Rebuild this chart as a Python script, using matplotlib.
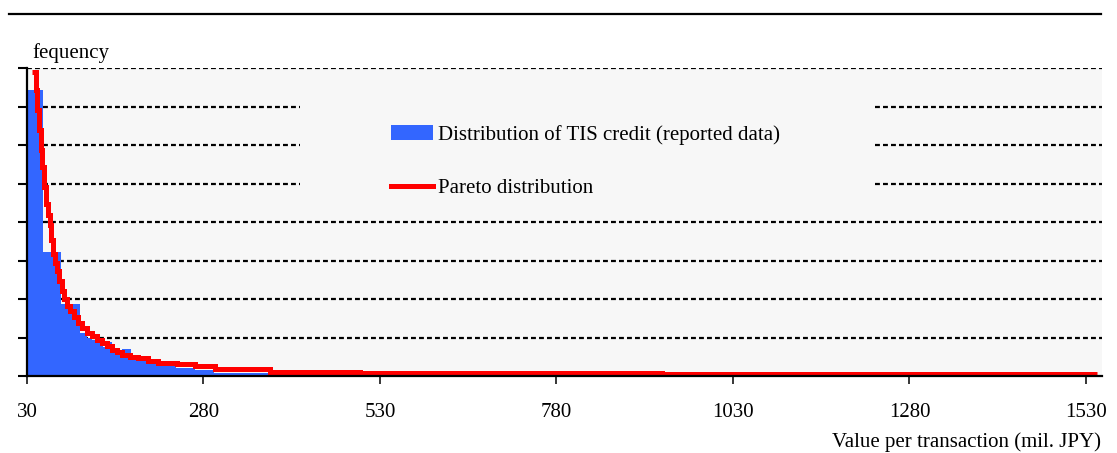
import numpy as np
import matplotlib
matplotlib.use('Agg')
import matplotlib.pyplot as plt
from matplotlib.patches import Rectangle, Patch
from matplotlib.lines import Line2D

plt.rcParams['font.family'] = ['Liberation Serif', 'DejaVu Serif']

# Distribution of TIS credit (reported data): bin edges (mil. JPY) and heights (tick units)
bin_edges = [30, 53, 78, 105, 115, 122, 129, 138, 145, 150, 165, 177, 189,
             203, 217, 241, 268, 295, 371]
bin_heights = [7.43, 3.23, 1.88, 1.12, 0.99, 0.94, 0.86, 0.76, 0.89, 0.68,
               0.70, 0.50, 0.39, 0.34, 0.26, 0.20, 0.15, 0.09]

# Pareto distribution (step curve)
pareto_x = [37, 43, 44, 47, 50, 51, 54, 57, 60, 63, 64, 67, 70, 72, 75, 80,
            82, 87, 91, 97, 102, 108, 115, 122, 129, 136, 143, 150, 158, 165,
            176, 187, 201, 216, 243, 268, 296, 374, 502, 930, 1545]
pareto_y = [7.90, 7.43, 6.91, 6.38, 5.86, 5.42, 4.90, 4.48, 4.17, 3.91, 3.52,
            3.18, 2.94, 2.74, 2.48, 2.22, 2.01, 1.82, 1.69, 1.54, 1.38, 1.25,
            1.12, 1.04, 0.94, 0.86, 0.78, 0.68, 0.63, 0.55, 0.50, 0.46, 0.40,
            0.35, 0.30, 0.25, 0.18, 0.10, 0.07, 0.04, 0.04]

x_ticks = [30, 280, 530, 780, 1030, 1280, 1530]
y_ticks = [0, 1, 2, 3, 4, 5, 6, 7, 8]

BLUE = '#3366ff'
RED = '#ff0000'
BG = '#f7f7f7'
FS = 15

fig = plt.figure(figsize=(11.17, 4.53), dpi=100)
ax = fig.add_axes([27 / 1117, 77 / 453, 1074.5 / 1117, 308 / 453])
ax.set_facecolor(BG)
ax.set_xlim(30, 1552)
ax.set_ylim(0, 8)

# dashed grid lines
for yv in y_ticks[1:]:
    ax.axhline(yv, color='black', lw=1.6, linestyle=(0, (2.2, 1.4)), zorder=0.5)

# legend area hides grid lines
ax.add_patch(Rectangle((0.254, 0.571), 0.535, 0.36, transform=ax.transAxes,
                       facecolor=BG, edgecolor='none', zorder=1))

edges = np.array(bin_edges)
ax.bar(edges[:-1], bin_heights, width=np.diff(edges), align='edge',
       color=BLUE, linewidth=0, zorder=2)
ax.plot(pareto_x, pareto_y, drawstyle='steps-post', color=RED, lw=3.6,
        solid_joinstyle='miter', solid_capstyle='butt', zorder=3)

for side in ['top', 'right']:
    ax.spines[side].set_visible(False)
for side in ['left', 'bottom']:
    ax.spines[side].set_linewidth(1.6)
    ax.spines[side].set_zorder(4)

ax.set_xticks(x_ticks)
ax.set_xticklabels([str(v) for v in x_ticks], fontsize=FS)
ax.set_yticks(y_ticks)
ax.set_yticklabels([])
ax.tick_params(axis='x', direction='out', length=5.5, width=1.1, pad=14)
ax.tick_params(axis='y', direction='out', length=6.5, width=1.5)

handles = [Patch(facecolor=BLUE, edgecolor='none'),
           Line2D([], [], color=RED, lw=3.6)]
labels = ['Distribution of TIS credit (reported data)', 'Pareto distribution']
fig.legend(handles, labels, loc='upper left',
           bbox_to_anchor=(391 / 1117, 1 - 125 / 453), frameon=False,
           fontsize=FS, handlelength=2.0, handleheight=0.7, handletextpad=0.25,
           labelspacing=1.6, borderpad=0, borderaxespad=0)

fig.text(32 / 1117, 1 - 58 / 453, 'fequency', fontsize=FS, ha='left', va='baseline')
fig.text(1101 / 1117, 1 - 447 / 453, 'Value per transaction (mil. JPY)',
         fontsize=FS, ha='right', va='baseline')

fig.add_artist(Line2D([9 / 1117, 1101 / 1117], [1 - 14 / 453, 1 - 14 / 453],
                      transform=fig.transFigure, color='black', lw=1.6))

fig.savefig('out.png', dpi=100)
